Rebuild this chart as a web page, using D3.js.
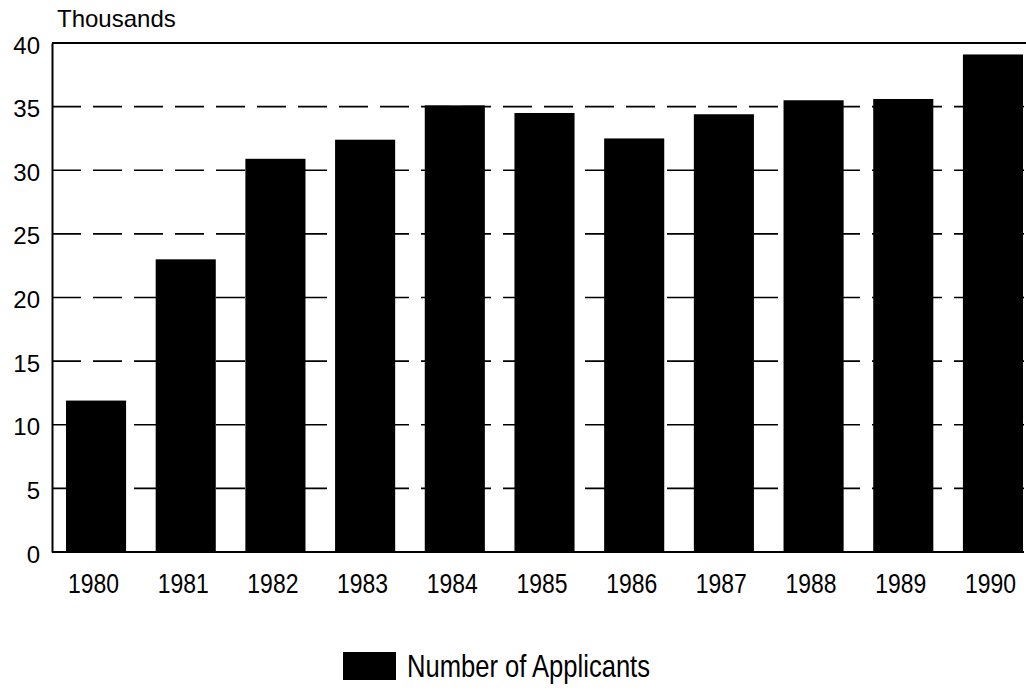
<!DOCTYPE html>
<html>
<head>
<meta charset="utf-8">
<script src="https://cdn.jsdelivr.net/npm/d3@7/dist/d3.min.js"></script>
<style>
  html, body { margin: 0; padding: 0; background: #fff; }
  svg { display: block; }
</style>
</head>
<body>
<svg id="chart" width="1026" height="691"></svg>
<script>
const years = ["1980","1981","1982","1983","1984","1985","1986","1987","1988","1989","1990"];
const applicants = [11.9, 23.0, 30.9, 32.4, 35.1, 34.5, 32.5, 34.4, 35.5, 35.6, 39.1];
const yTicks = [0, 5, 10, 15, 20, 25, 30, 35, 40];
const gridValues = [5, 10, 15, 20, 25, 30, 35];
const unitLabel = "Thousands";
const seriesName = "Number of Applicants";

(function () {
const svg = d3.select("#chart");
const mLeft = 52, mTop = 43, mBottom = 552, mRight = 1026;
const font = "'Liberation Sans', Arial, sans-serif";

const x = d3.scaleBand().domain(years).range([mLeft, 1037]).paddingInner(0.33).paddingOuter(0.156);
const y = d3.scaleLinear().domain([0, 40]).range([mBottom, mTop]);

// dashed gridlines
svg.append("g").selectAll("line").data(gridValues).join("line")
  .attr("x1", mLeft).attr("x2", mRight)
  .attr("y1", d => y(d)).attr("y2", d => y(d))
  .attr("stroke", "#000").attr("stroke-width", 1.6)
  .attr("stroke-dasharray", "29 12");

// top frame line
svg.append("line").attr("x1", mLeft).attr("x2", mRight)
  .attr("y1", y(40)).attr("y2", y(40))
  .attr("stroke", "#000").attr("stroke-width", 1.8);

// bars
svg.append("g").selectAll("rect").data(years).join("rect")
  .attr("x", d => x(d)).attr("width", x.bandwidth())
  .attr("y", (d, i) => y(applicants[i]))
  .attr("height", (d, i) => y(0) - y(applicants[i]))
  .attr("fill", "#000");

// left axis
const yAxis = svg.append("g").attr("transform", `translate(${mLeft},0)`)
  .call(d3.axisLeft(y).tickValues(yTicks).tickSize(0).tickPadding(12));
yAxis.select(".domain").attr("stroke", "#000").attr("stroke-width", 2);
yAxis.selectAll("text")
  .attr("font-family", font)
  .attr("font-size", 24).attr("fill", "#000").attr("dy", "0.42em");

// bottom axis
const xAxis = svg.append("g").attr("transform", `translate(0,${mBottom})`)
  .call(d3.axisBottom(x).tickSize(0));
xAxis.select(".domain").remove();
svg.append("line").attr("x1", mLeft).attr("x2", 1024)
  .attr("y1", mBottom).attr("y2", mBottom)
  .attr("stroke", "#000").attr("stroke-width", 2);
xAxis.selectAll("text")
  .attr("font-family", font)
  .attr("font-size", 27).attr("fill", "#000")
  .attr("transform", "scale(0.85,1)")
  .attr("x", -3).attr("y", 41).attr("dy", 0);

// unit label
svg.append("text").attr("x", 57).attr("y", 27)
  .attr("font-family", font)
  .attr("font-size", 24).attr("fill", "#000")
  .text(unitLabel);

// legend
const lg = svg.append("g").attr("transform", "translate(343,652)");
lg.append("rect").attr("width", 53).attr("height", 28).attr("fill", "#000");
lg.append("text").attr("transform", "translate(64,24.5) scale(0.825,1)")
  .attr("font-family", font)
  .attr("font-size", 31).attr("fill", "#000")
  .text(seriesName);
})();
</script>
</body>
</html>
